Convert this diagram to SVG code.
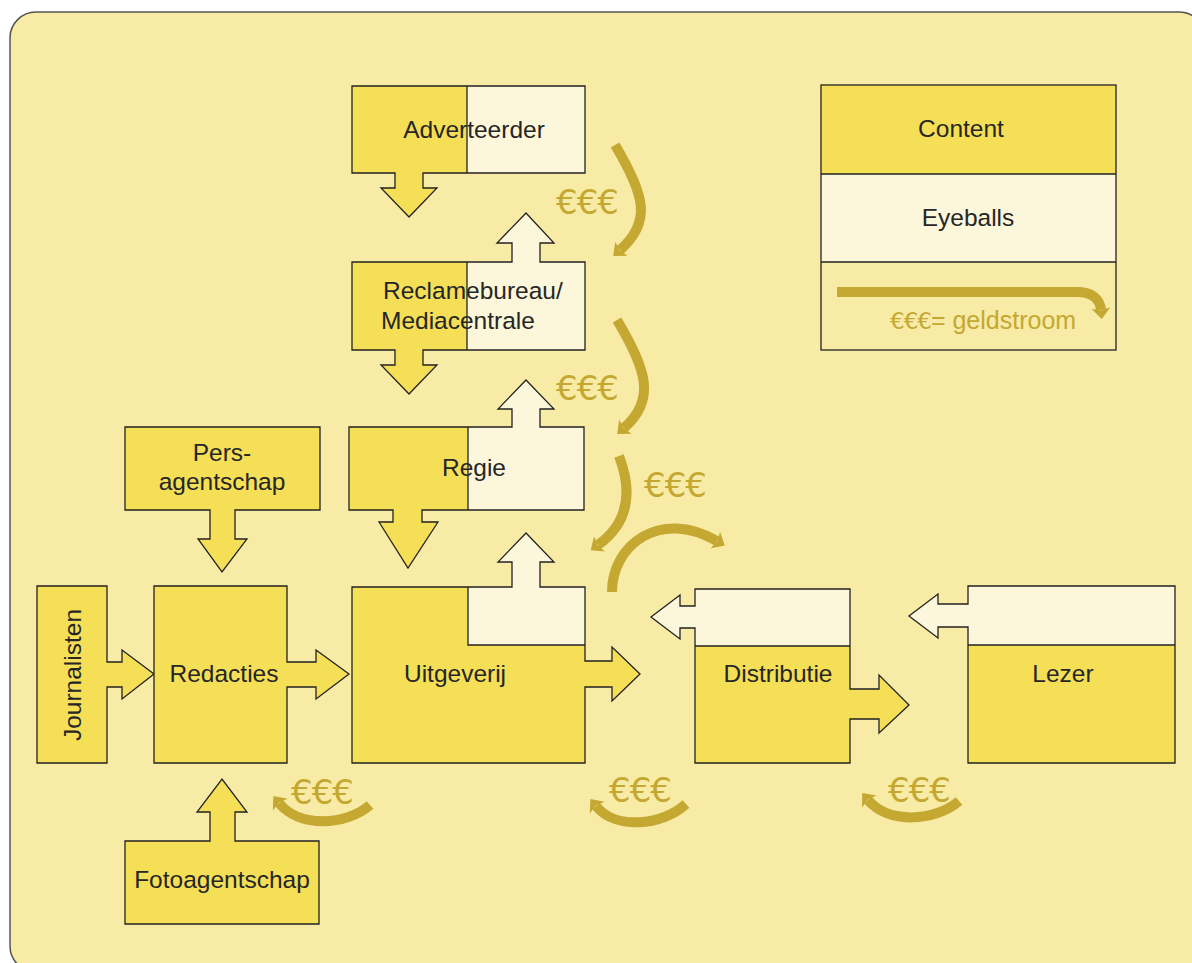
<svg xmlns="http://www.w3.org/2000/svg" width="1192" height="963" viewBox="0 0 1192 963">
<defs>
<style>
.bg{fill:#F8EBA5;stroke:#555;stroke-width:1.5}
.c{fill:#F5DF57}
.e{fill:#FCF6DA}
.ol{fill:none;stroke:#222;stroke-width:1.3;stroke-linejoin:miter}
.ln{stroke:#222;stroke-width:1.3}
.t{font-family:"Liberation Sans",Arial,sans-serif;font-size:24.5px;fill:#262626}
.m{text-anchor:middle}
.eur{font-family:"DejaVu Sans",sans-serif;font-size:34px;fill:#C4A832;text-anchor:middle;letter-spacing:-1px}
.g{fill:none;stroke:#C4A832;stroke-width:10;marker-end:url(#ah)}
</style>
<marker id="ah" markerUnits="userSpaceOnUse" markerWidth="11" markerHeight="19" viewBox="0 0 11 19" refX="2" refY="9.5" orient="auto">
<path d="M0,0 L11,9.5 L0,19 L2.5,9.5 Z" fill="#C4A832"/>
</marker>
</defs>

<rect class="bg" x="10" y="12" width="1195" height="960" rx="26" ry="26"/>

<!-- Legend -->
<g id="legend">
<rect class="c" x="821" y="85" width="295" height="89"/>
<rect class="e" x="821" y="174" width="295" height="88"/>
<rect class="ol" x="821" y="85" width="295" height="265"/>
<line class="ln" x1="821" y1="174" x2="1116" y2="174"/>
<line class="ln" x1="821" y1="262" x2="1116" y2="262"/>
<text class="t m" x="961" y="137">Content</text>
<text class="t m" x="968" y="226">Eyeballs</text>
<path class="g" d="M837,292 H1077 C1092,292 1100,299 1101,310"/>
<text x="890" y="329" style="font-family:'Liberation Sans',Arial,sans-serif;font-size:25px;fill:#C4A832"><tspan style="font-family:'DejaVu Sans',sans-serif;font-size:23px;letter-spacing:-1px">€€€</tspan>= geldstroom</text>
</g>

<!-- Adverteerder -->
<g id="adverteerder">
<rect class="c" x="352" y="86" width="115" height="87"/>
<rect class="e" x="467" y="86" width="118" height="87"/>
<polygon class="c" points="395,172 423,172 423,188 437,188 409,217 381,188 395,188"/>
<path class="ol" d="M352,86 H585 V173 H423 V188 H437 L409,217 L381,188 H395 V173 H352 Z"/>
<line class="ln" x1="467" y1="86" x2="467" y2="173"/>
<text class="t m" x="474" y="138">Adverteerder</text>
</g>

<!-- Reclamebureau -->
<g id="reclamebureau">
<rect class="c" x="352" y="262" width="115" height="88"/>
<rect class="e" x="467" y="262" width="118" height="88"/>
<polygon class="e" points="512,263 512,243 497,243 526,213 554,243 540,243 540,263"/>
<polygon class="c" points="395,349 423,349 423,365 437,365 409,394 381,365 395,365"/>
<path class="ol" d="M352,262 H512 V243 H497 L526,213 L554,243 H540 V262 H585 V350 H423 V365 H437 L409,394 L381,365 H395 V350 H352 Z"/>
<line class="ln" x1="467" y1="262" x2="467" y2="350"/>
<text class="t" x="383" y="299">Reclamebureau/</text>
<text class="t" x="381" y="329">Mediacentrale</text>
</g>

<!-- Regie -->
<g id="regie">
<rect class="c" x="349" y="427" width="119" height="83"/>
<rect class="e" x="468" y="427" width="116" height="83"/>
<polygon class="e" points="512,428 512,409 498,409 526,380 554,409 540,409 540,428"/>
<polygon class="c" points="393,509 422,509 422,522 438,522 408,568 379,522 393,522"/>
<path class="ol" d="M349,427 H512 V409 H498 L526,380 L554,409 H540 V427 H584 V510 H422 V522 H438 L408,568 L379,522 H393 V510 H349 Z"/>
<line class="ln" x1="468" y1="427" x2="468" y2="510"/>
<text class="t m" x="474" y="476">Regie</text>
</g>

<!-- Pers-agentschap -->
<g id="persagentschap">
<rect class="c" x="125" y="427" width="195" height="83"/>
<polygon class="c" points="210,509 235,509 235,539 247,539 222,572 198,539 210,539"/>
<path class="ol" d="M125,427 H320 V510 H235 V539 H247 L222,572 L198,539 H210 V510 H125 Z"/>
<text class="t m" x="222" y="461">Pers-</text>
<text class="t m" x="222" y="490">agentschap</text>
</g>

<!-- Journalisten -->
<g id="journalisten">
<rect class="c" x="37" y="586" width="70" height="177"/>
<polygon class="c" points="106,662 122,662 122,650 154,674 122,699 122,687 106,687"/>
<path class="ol" d="M37,586 H107 V662 H122 V650 L154,674 L122,699 V687 H107 V763 H37 Z"/>
<text class="t m" transform="translate(81,675) rotate(-90)">Journalisten</text>
</g>

<!-- Redacties -->
<g id="redacties">
<rect class="c" x="154" y="586" width="133" height="177"/>
<polygon class="c" points="286,662 316,662 316,650 349,674 316,699 316,687 286,687"/>
<path class="ol" d="M154,586 H287 V662 H316 V650 L349,674 L316,699 V687 H287 V763 H154 Z"/>
<text class="t m" x="224" y="682">Redacties</text>
</g>

<!-- Fotoagentschap -->
<g id="fotoagentschap">
<rect class="c" x="125" y="841" width="194" height="83"/>
<polygon class="c" points="210,842 210,812 197,812 222,779 247,812 235,812 235,842"/>
<path class="ol" d="M125,841 H210 V812 H197 L222,779 L247,812 H235 V841 H319 V924 H125 Z"/>
<text class="t m" x="222" y="888">Fotoagentschap</text>
</g>

<!-- Uitgeverij -->
<g id="uitgeverij">
<rect class="c" x="352" y="587" width="233" height="176"/>
<rect class="e" x="468" y="587" width="117" height="58"/>
<polygon class="e" points="512,588 512,562 498,562 526,533 554,562 540,562 540,588"/>
<polygon class="c" points="584,661 612,661 612,647 640,674 612,701 612,687 584,687"/>
<path class="ol" d="M352,587 H512 V562 H498 L526,533 L554,562 H540 V587 H585 V661 H612 V647 L640,674 L612,701 V687 H585 V763 H352 Z"/>
<path class="ol" d="M468,587 V645 H585"/>
<text class="t m" x="455" y="682">Uitgeverij</text>
</g>

<!-- Distributie -->
<g id="distributie">
<rect class="c" x="695" y="646" width="155" height="117"/>
<rect class="e" x="695" y="589" width="155" height="57"/>
<polygon class="e" points="696,606 680,606 680,595 651,617 680,639 680,628 696,628"/>
<polygon class="c" points="849,689 879,689 879,675 909,705 879,733 879,719 849,719"/>
<path class="ol" d="M695,589 H850 V689 H879 V675 L909,705 L879,733 V719 H850 V763 H695 V628 H680 V639 L651,617 L680,595 V606 H695 Z"/>
<line class="ln" x1="695" y1="646" x2="850" y2="646"/>
<text class="t m" x="778" y="682">Distributie</text>
</g>

<!-- Lezer -->
<g id="lezer">
<rect class="c" x="968" y="645" width="207" height="118"/>
<rect class="e" x="968" y="586" width="207" height="59"/>
<polygon class="e" points="969,604 938,604 938,594 909,616 938,638 938,627 969,627"/>
<path class="ol" d="M968,586 H1175 V763 H968 V627 H938 V638 L909,616 L938,594 V604 H968 Z"/>
<line class="ln" x1="968" y1="645" x2="1175" y2="645"/>
<text class="t m" x="1063" y="682">Lezer</text>
</g>

<!-- Money flows -->
<g id="connectors">
<path class="g" d="M615,145 C645,195 652,222 620,250"/>
<path class="g" d="M617,320 C647,370 656,400 624,428"/>
<path class="g" d="M619,456 C632,490 630,522 598,545"/>
<path class="g" d="M612,592 C612,545 660,508 717,541"/>
<path class="g" d="M370,805 C346,826 299,828 279,803"/>
<path class="g" d="M686,804 C662,826 615,830 596,806"/>
<path class="g" d="M959,801 C935,822 888,824 868,800"/>
<text class="eur" x="587" y="214">€€€</text>
<text class="eur" x="587" y="400">€€€</text>
<text class="eur" x="675" y="497">€€€</text>
<text class="eur" x="322" y="804">€€€</text>
<text class="eur" x="640" y="802">€€€</text>
<text class="eur" x="919" y="802">€€€</text>
</g>
</svg>
